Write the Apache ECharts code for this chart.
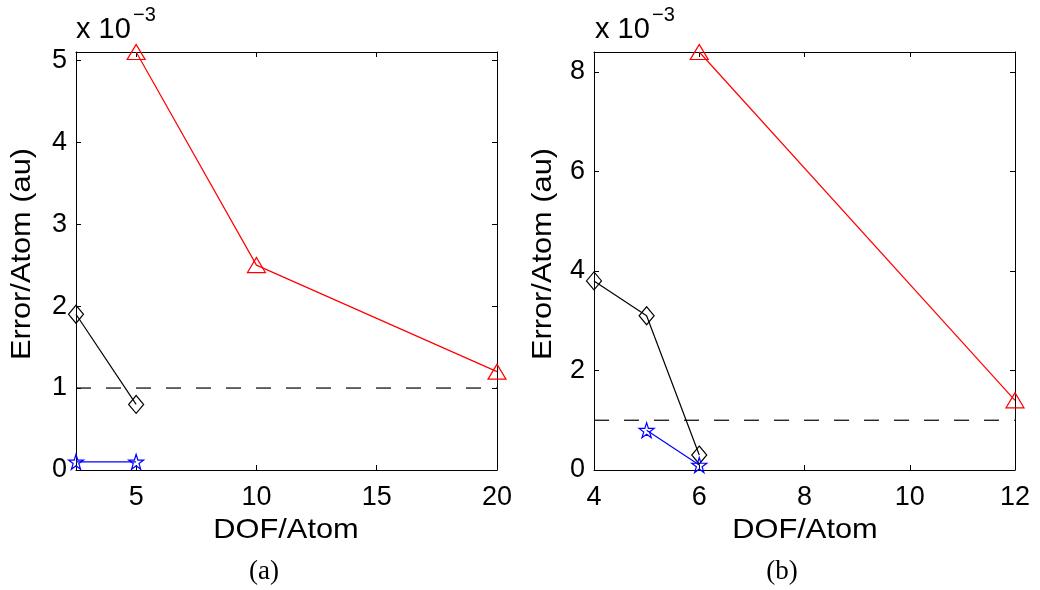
<!DOCTYPE html>
<html>
<head>
<meta charset="utf-8">
<script src="https://cdn.jsdelivr.net/npm/echarts@6/dist/echarts.min.js"></script>
<style>html,body{margin:0;padding:0;background:#fff;}#c{width:1040px;height:590px;}</style>
</head>
<body>
<div id="c"></div>
<script>
// ---- Panel (a) data ----
const aXTicks = [5, 10, 15, 20];
const aYTicks = [0, 1, 2, 3, 4, 5];
const aRedX = [5, 10, 20];
const aRedY = [5.1, 2.5, 1.2];
const aBlackX = [2.5, 5];
const aBlackY = [1.9, 0.8];
const aBlueX = [2.5, 5];
const aBlueY = [0.1, 0.1];
const aRefX = [2.5, 20];
const aRefY = [1, 1];

// ---- Panel (b) data ----
const bXTicks = [4, 6, 8, 10, 12];
const bYTicks = [0, 2, 4, 6, 8];
const bRedX = [6, 12];
const bRedY = [8.4, 1.4];
const bBlackX = [4, 5, 6];
const bBlackY = [3.8, 3.1, 0.3];
const bBlueX = [5, 6];
const bBlueY = [0.8, 0.1];
const bRefX = [4, 12];
const bRefY = [1, 1];

const zip = (xs, ys) => xs.map((x, i) => [x, ys[i]]);

const STAR = 'path://M0,-10 L2.245,-3.09 L9.511,-3.09 L3.633,1.18 L5.878,8.09 L0,3.82 L-5.878,8.09 L-3.633,1.18 L-9.511,-3.09 L-2.245,-3.09 Z';
const TICKFONT = 'Liberation Sans';

function mkX(grid, pos, labels, min, max, ticks) {
  return {
    type: 'value', gridIndex: grid, position: pos, min: min, max: max,
    axisLine: { show: true, onZero: false, lineStyle: { color: '#000', width: 1 } },
    axisTick: { show: true, inside: true, length: 5, customValues: ticks, lineStyle: { color: '#000', width: 1 } },
    axisLabel: { show: labels, customValues: ticks, margin: 14, color: '#000', fontSize: 27, fontFamily: TICKFONT },
    splitLine: { show: false }
  };
}
function mkY(grid, pos, labels, min, max, ticks) {
  return {
    type: 'value', gridIndex: grid, position: pos, min: min, max: max,
    axisLine: { show: true, onZero: false, lineStyle: { color: '#000', width: 1 } },
    axisTick: { show: true, inside: true, length: 5, customValues: ticks, lineStyle: { color: '#000', width: 1 } },
    axisLabel: { show: labels, customValues: ticks, margin: 9, color: '#000', fontSize: 27, fontFamily: TICKFONT },
    splitLine: { show: false }
  };
}

function mkSeries(xi, yi, data, color, symbol, size) {
  return {
    type: 'line', xAxisIndex: xi, yAxisIndex: yi, data: data, clip: false,
    symbol: symbol, symbolSize: size, symbolKeepAspect: false, showAllSymbol: true,
    itemStyle: { color: 'rgba(0,0,0,0)', borderColor: color, borderWidth: 1.2 },
    lineStyle: { color: color, width: 1.2 },
    emphasis: { disabled: true }, z: 3
  };
}
function mkRef(xi, yi, data) {
  return {
    type: 'line', xAxisIndex: xi, yAxisIndex: yi, data: data, symbol: 'none',
    lineStyle: { color: '#000', width: 1.2, type: [15, 15] }, z: 2,
    emphasis: { disabled: true }
  };
}

function txt(x, y, text, font, opts) {
  return Object.assign({
    type: 'text', x: x, y: y, silent: true,
    style: { text: text, font: font, fill: '#000', textAlign: opts.align || 'center', align: opts.align || 'center',
             textVerticalAlign: 'middle', verticalAlign: 'middle' }
  }, opts.el || {});
}

const NAMEFONT = '28px "Liberation Sans"';
const option = {
  animation: false,
  backgroundColor: '#fff',
  grid: [
    { left: 76, top: 52, width: 421, height: 418, show: false },
    { left: 594, top: 52, width: 421, height: 418, show: false }
  ],
  xAxis: [
    mkX(0, 'bottom', true, 2.5, 20, aXTicks),
    mkX(0, 'top', false, 2.5, 20, aXTicks),
    mkX(1, 'bottom', true, 4, 12, bXTicks),
    mkX(1, 'top', false, 4, 12, bXTicks)
  ],
  yAxis: [
    mkY(0, 'left', true, 0, 5.1, aYTicks),
    mkY(0, 'right', false, 0, 5.1, aYTicks),
    mkY(1, 'left', true, 0, 8.4, bYTicks),
    mkY(1, 'right', false, 0, 8.4, bYTicks)
  ],
  series: [
    mkRef(0, 0, zip(aRefX, aRefY)),
    mkSeries(0, 0, zip(aRedX, aRedY), '#ff0000', 'triangle', [18, 15]),
    mkSeries(0, 0, zip(aBlackX, aBlackY), '#000000', 'diamond', [15, 18]),
    mkSeries(0, 0, zip(aBlueX, aBlueY), '#0000ff', STAR, [15, 15]),
    mkRef(2, 2, zip(bRefX, bRefY)),
    mkSeries(2, 2, zip(bRedX, bRedY), '#ff0000', 'triangle', [18, 15]),
    mkSeries(2, 2, zip(bBlackX, bBlackY), '#000000', 'diamond', [15, 18]),
    mkSeries(2, 2, zip(bBlueX, bBlueY), '#0000ff', STAR, [15, 15])
  ],
  graphic: [
    txt(76, 30, 'x 10', '29px "Liberation Sans"', { align: 'left' }),
    txt(133, 15, '\u22123', '20px "Liberation Sans"', { align: 'left' }),
    txt(595, 30, 'x 10', '29px "Liberation Sans"', { align: 'left' }),
    txt(652, 15, '\u22123', '20px "Liberation Sans"', { align: 'left' }),
    txt(286, 530, 'DOF/Atom', NAMEFONT, { el: { scaleX: 1.1 } }),
    txt(805, 530, 'DOF/Atom', NAMEFONT, { el: { scaleX: 1.1 } }),
    txt(22, 254, 'Error/Atom (au)', NAMEFONT, { el: { rotation: Math.PI / 2, scaleX: 1.1 } }),
    txt(543, 254, 'Error/Atom (au)', NAMEFONT, { el: { rotation: Math.PI / 2, scaleX: 1.1 } }),
    txt(264, 572, '(a)', '27px "Liberation Serif"', {}),
    txt(782, 572, '(b)', '27px "Liberation Serif"', {})
  ]
};
const chart = echarts.init(document.getElementById('c'), null, { renderer: 'canvas' });
chart.setOption(option);
</script>
</body>
</html>
